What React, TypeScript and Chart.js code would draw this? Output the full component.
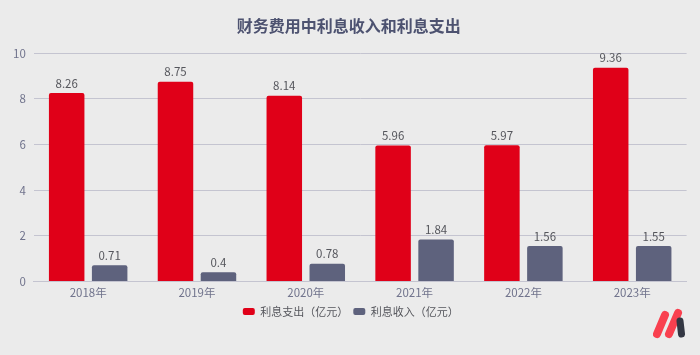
import React, { useEffect, useRef } from "react";
import { Chart, registerables } from "chart.js";

Chart.register(...registerables);

const years = ["2018年", "2019年", "2020年", "2021年", "2022年", "2023年"];
const expense = [8.26, 8.75, 8.14, 5.96, 5.97, 9.36];
const income = [0.71, 0.4, 0.78, 1.84, 1.56, 1.55];
const expenseName = "利息支出（亿元）";
const incomeName = "利息收入（亿元）";
const chartTitle = "财务费用中利息收入和利息支出";
const FONT = '"Noto Sans CJK SC", "Noto Sans", sans-serif';

const valueLabels = {
  id: "valueLabels",
  afterLayout(chart: any) {
    chart.legend.left += 5;
    chart.legend.right += 5;
    chart.legend.top -= 2;
    chart.legend.bottom -= 2;
    chart.titleBlock.left += 3;
    chart.titleBlock.right += 3;
  },
  afterDatasetsDraw(chart: any) {
    const { ctx } = chart;
    ctx.save();
    ctx.font = `11.5px ${FONT}`;
    ctx.fillStyle = "#55565c";
    ctx.textAlign = "center";
    ctx.textBaseline = "bottom";
    chart.data.datasets.forEach((ds: any, i: number) => {
      chart.getDatasetMeta(i).data.forEach((el: any, j: number) => {
        ctx.fillText(String(ds.data[j]), el.x, el.y - 4);
      });
    });
    ctx.restore();
  },
};

export default function App() {
  const ref = useRef<HTMLCanvasElement>(null);
  useEffect(() => {
    document.body.style.margin = "0";
    document.body.style.background = "#ebebeb";
    const chart = new Chart(ref.current!, {
      type: "bar",
      data: {
        labels: years,
        datasets: [
          { label: expenseName, data: expense, backgroundColor: "#e00018", borderRadius: 2, categoryPercentage: 0.79, barPercentage: 0.826 },
          { label: incomeName, data: income, backgroundColor: "#5e627d", borderRadius: 2, categoryPercentage: 0.79, barPercentage: 0.826 },
        ],
      },
      options: {
        responsive: false,
        animation: false,
        layout: { padding: { left: 5, right: 13.4, top: 8, bottom: 26 } },
        plugins: {
          title: {
            display: true,
            text: chartTitle,
            color: "#4d5270",
            font: { family: FONT, size: 16, weight: "bold", lineHeight: 1.2 },
            padding: { top: 8, bottom: 18 },
          },
          legend: {
            position: "bottom",
            labels: {
              color: "#55565c",
              font: { family: FONT, size: 11 },
              boxWidth: 12,
              boxHeight: 7,
              useBorderRadius: true,
              borderRadius: 2,
              padding: 5,
            },
          },
          tooltip: { enabled: false },
        },
        scales: {
          x: {
            grid: { display: false, drawTicks: false },
            border: { color: "#c4c4d0", width: 1 },
            ticks: { color: "#70738c", font: { family: FONT, size: 11.5, lineHeight: 1 }, padding: 5 },
          },
          y: {
            min: 0,
            max: 10,
            ticks: { stepSize: 2, color: "#70738c", font: { family: FONT, size: 11.5 }, padding: 8 },
            grid: { color: "#c4c4d0", lineWidth: 1, drawTicks: false },
            border: { display: false },
          },
        },
      },
      plugins: [valueLabels],
    } as any);
    return () => chart.destroy();
  }, []);
  return (
    <div style={{ position: "relative", width: 700, height: 355, background: "#ebebeb", overflow: "hidden" }}>
      <canvas ref={ref} width={700} height={355} style={{ display: "block" }} />
      <svg width="32" height="32" viewBox="0 0 32 32" style={{ position: "absolute", left: 653, top: 308 }}>
        <path d="M4 26 L12 7" stroke="#f9404f" strokeWidth="8" strokeLinecap="round" />
        <path d="M16 26 L25 5" stroke="#f9404f" strokeWidth="8" strokeLinecap="round" />
        <path d="M27 13 L28.5 26" stroke="#333743" strokeWidth="7" strokeLinecap="round" />
      </svg>
    </div>
  );
}
